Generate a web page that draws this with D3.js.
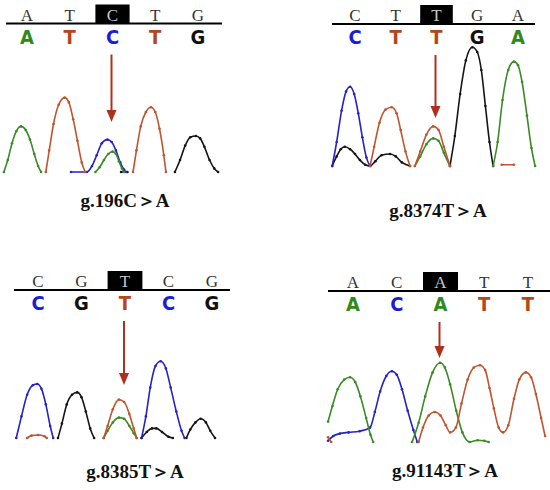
<!DOCTYPE html>
<html>
<head>
<meta charset="utf-8">
<script src="https://cdn.jsdelivr.net/npm/d3@7.8.5/dist/d3.min.js"></script>
<style>
  html, body { margin: 0; padding: 0; background: #fff; }
  svg { display: block; }
</style>
</head>
<body>
<div id="chart"></div>
<script>
// reference sequence (top row) and base calls (coloured row) per panel
const refBases = [
    ["A", "T", "C", "T", "G"],
    ["C", "T", "T", "G", "A"],
    ["C", "G", "T", "C", "G"],
    ["A", "C", "A", "T", "T"]
];
const calledBases = [
    ["A", "T", "C", "T", "G"],
    ["C", "T", "T", "G", "A"],
    ["C", "G", "T", "C", "G"],
    ["A", "C", "A", "T", "T"]
];
const mutIndex = [2, 2, 2, 2];
const mutLabels = ["g.196C＞A", "g.8374T＞A", "g.8385T＞A", "g.91143T＞A"];

// trace samples: [base position, intensity]; null breaks the line
const traceA = [
    [[-0.54,0],[-0.45,10],[-0.35,24],[-0.25,34],[-0.14,38],[-0.03,35],[0.07,27],[0.17,15],[0.26,5],[0.33,0],null,
     [1.6,0],[1.7,4],[1.8,10],[1.9,15],[2.0,17],[2.08,15],[2.15,9],[2.22,3],[2.27,0]],
    [[1.47,0],[1.6,8],[1.75,18],[1.92,23],[2.05,21],[2.18,11],[2.33,0],null,
     [3.39,0],[3.5,20],[3.62,55],[3.76,80],[3.9,87],[4.0,84],[4.1,70],[4.22,42],[4.33,15],[4.42,0]],
    [[1.51,0],[1.6,6],[1.72,13],[1.86,17],[1.98,16],[2.1,10],[2.2,4],[2.27,0]],
    [[-0.57,17],[-0.47,30],[-0.35,44],[-0.2,52],[-0.07,54],[0.05,50],[0.17,38],[0.3,20],[0.4,6],[0.46,0],null,
     [1.35,0],[1.5,16],[1.65,38],[1.82,58],[1.99,66],[2.1,62],[2.22,48],[2.36,26],[2.5,8],[2.67,0],[2.85,1.5],[3.0,1],[3.1,0]]
];
const traceC = [
    [[1.03,0],[1.4,0],[1.52,5],[1.63,14],[1.75,24],[1.88,27],[1.98,25],[2.08,18],[2.18,8],[2.27,2],[2.32,0]],
    [[-0.56,0],[-0.45,20],[-0.33,46],[-0.22,62],[-0.12,66],[-0.02,60],[0.08,44],[0.18,24],[0.28,7],[0.37,0]],
    [[-0.5,0],[-0.38,18],[-0.25,36],[-0.12,44],[-0.02,45],[0.08,41],[0.18,28],[0.28,10],[0.35,0],null,
     [2.38,0],[2.48,18],[2.58,42],[2.7,60],[2.82,64],[2.94,58],[3.05,42],[3.18,22],[3.3,6],[3.37,0]],
    [[-0.57,1],[-0.45,5],[-0.3,7],[-0.1,8],[0.15,9],[0.39,12],[0.5,25],[0.62,42],[0.76,55],[0.89,59],[1.0,56],[1.12,44],[1.25,26],[1.38,10],[1.47,0]]
];
const traceG = [
    [[2.2,0],[2.35,0],null,
     [3.46,0],[3.58,10],[3.7,22],[3.82,29],[3.95,30],[4.05,28],[4.15,21],[4.27,10],[4.38,3],[4.47,0]],
    [[-0.56,0],[-0.45,8],[-0.35,14],[-0.25,16],[-0.12,14],[0,10],[0.12,5],[0.25,1],[0.37,0],
     [0.5,4],[0.65,9],[0.86,10],[1.0,8],[1.15,3],[1.35,0],null,
     [2.33,0],[2.45,25],[2.58,60],[2.72,88],[2.88,99],[3.0,95],[3.1,80],[3.2,50],[3.3,20],[3.39,0]],
    [[0.46,0],[0.55,12],[0.66,28],[0.78,36],[0.9,38],[1.0,34],[1.1,22],[1.2,8],[1.29,0],null,
     [2.38,0],[2.5,5],[2.62,8],[2.72,8],[2.85,5],[3.0,1],[3.1,0],null,
     [3.41,0],[3.5,7],[3.62,13],[3.74,16],[3.86,13],[3.96,6],[4.07,0]],
    []
];
const traceT = [
    [[0.44,0],[0.52,18],[0.62,40],[0.74,56],[0.88,62],[0.98,58],[1.08,44],[1.18,26],[1.28,8],[1.36,0],null,
     [2.48,0],[2.56,18],[2.66,38],[2.78,50],[2.9,54],[3.0,50],[3.1,36],[3.2,14],[3.25,0]],
    [[0.37,0],[0.47,16],[0.6,36],[0.75,47],[0.9,49],[1.02,44],[1.12,30],[1.24,12],[1.35,0],null,
     [1.47,0],[1.6,12],[1.75,26],[1.92,33],[2.05,30],[2.18,16],[2.33,0],null,
     [3.6,1],[3.9,1]],
    [[-0.25,0],[-0.15,2],[0,2.5],[0.15,1.5],[0.2,0],null,
     [1.51,0],[1.6,10],[1.72,24],[1.86,32],[1.98,30],[2.1,20],[2.2,8],[2.27,0]],
    [[-0.57,4],[-0.5,0],null,
     [1.5,0],[1.6,12],[1.73,22],[1.87,25],[2.0,22],[2.12,14],[2.22,8],[2.35,12],[2.48,32],[2.62,52],[2.76,62],[2.9,64],
     [3.02,60],[3.12,45],[3.22,28],[3.33,12],[3.43,8],[3.55,14],[3.68,36],[3.8,52],[3.95,58],[4.07,54],[4.18,40],[4.3,20],[4.39,5]]
];

// layout per panel (pixels)
const panels = [
    { x0: 27,  step: 42.75, lineL: 6,   lineR: 222, lineY: 23.5, base: 172, arrowEnd: 122, labelX: 125, labelY: 207 },
    { x0: 355, step: 40.75, lineL: 332, lineR: 535, lineY: 24,   base: 166, arrowEnd: 118, labelX: 438, labelY: 217 },
    { x0: 38,  step: 43.5,  lineL: 14,  lineR: 230, lineY: 290,  base: 438, arrowEnd: 385, labelX: 135, labelY: 478 },
    { x0: 353, step: 43.75, lineL: 328, lineR: 550, lineY: 291,  base: 442, arrowEnd: 358, labelX: 445, labelY: 477 }
];

const traceColor = { A: "#3b8a26", C: "#2323c8", G: "#151515", T: "#bf5530" };
const callColor  = { A: "#2f8a1c", C: "#1c1cd6", G: "#111111", T: "#b5451b" };
const arrowColor = "#b03020";

const svg = d3.select("#chart").append("svg")
    .attr("width", 550)
    .attr("height", 490);

panels.forEach((p, k) => {
    const g = svg.append("g");
    const x = d3.scaleLinear().domain([0, 4]).range([p.x0, p.x0 + 4 * p.step]);
    const y = d3.scaleLinear().domain([0, 100]).range([p.base, p.base - 120]);

    // highlight box behind the mutated reference base
    const bw = p.step * 0.8;
    g.append("rect")
        .attr("x", x(mutIndex[k]) - bw / 2)
        .attr("y", p.lineY - 19)
        .attr("width", bw)
        .attr("height", 19)
        .attr("fill", "#000");

    g.append("line")
        .attr("x1", p.lineL).attr("x2", p.lineR)
        .attr("y1", p.lineY).attr("y2", p.lineY)
        .attr("stroke", "#000")
        .attr("stroke-width", 2);

    g.selectAll(".ref")
        .data(refBases[k])
        .enter()
        .append("text")
        .attr("x", (d, i) => x(i))
        .attr("y", p.lineY - 3)
        .attr("text-anchor", "middle")
        .attr("font-family", "'Liberation Serif', 'Times New Roman', serif")
        .attr("font-size", "17px")
        .attr("fill", (d, i) => i === mutIndex[k] ? "#c8c8c8" : "#333")
        .text(d => d);

    g.selectAll(".call")
        .data(calledBases[k])
        .enter()
        .append("text")
        .attr("x", (d, i) => x(i))
        .attr("y", p.lineY + 20)
        .attr("text-anchor", "middle")
        .attr("font-family", "'DejaVu Sans Condensed', 'DejaVu Sans', sans-serif")
        .attr("font-stretch", "condensed")
        .attr("font-weight", "bold")
        .attr("font-size", "20px")
        .attr("fill", d => callColor[d])
        .text(d => d);

    // chromatogram traces
    const line = d3.line()
        .defined(d => d !== null)
        .x(d => x(d[0]))
        .y(d => y(d[1]))
        .curve(d3.curveMonotoneX);

    const traces = [
        { base: "G", pts: traceG[k] },
        { base: "C", pts: traceC[k] },
        { base: "A", pts: traceA[k] },
        { base: "T", pts: traceT[k] }
    ];

    traces.forEach(t => {
        if (!t.pts.length) return;
        g.append("path")
            .attr("d", line(t.pts))
            .attr("fill", "none")
            .attr("stroke", traceColor[t.base])
            .attr("stroke-width", 1.6)
            .attr("stroke-linejoin", "round");
        g.selectAll(null)
            .data(t.pts.filter(d => d !== null))
            .enter()
            .append("circle")
            .attr("cx", d => x(d[0]))
            .attr("cy", d => y(d[1]))
            .attr("r", 1.3)
            .attr("fill", traceColor[t.base]);
    });

    // arrow pointing at the mutation peak
    const ax = x(mutIndex[k]) - 1;
    g.append("line")
        .attr("x1", ax).attr("x2", ax)
        .attr("y1", p.lineY + 31)
        .attr("y2", p.arrowEnd - 10)
        .attr("stroke", arrowColor)
        .attr("stroke-width", 2);
    g.append("path")
        .attr("d", d3.line()([[ax - 5, p.arrowEnd - 12], [ax + 5, p.arrowEnd - 12], [ax, p.arrowEnd]]) + "Z")
        .attr("fill", arrowColor);

    g.append("text")
        .attr("x", p.labelX)
        .attr("y", p.labelY)
        .attr("text-anchor", "middle")
        .attr("font-family", "'Liberation Serif', 'Times New Roman', serif")
        .attr("font-weight", "bold")
        .attr("font-size", "19px")
        .attr("fill", "#111")
        .text(mutLabels[k]);
});
</script>
</body>
</html>
